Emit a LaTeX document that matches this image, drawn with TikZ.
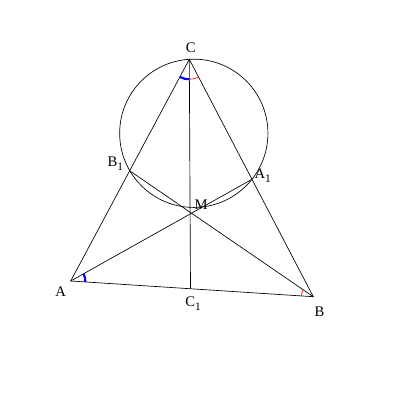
\documentclass[tikz,border=0pt]{standalone}
\usepackage{fontspec}
\setmainfont{Liberation Serif}
\usetikzlibrary{angles}
\newcommand{\mysub}[1]{\raisebox{-0.6ex}{\fontsize{8.5}{9}\selectfont #1}}
\begin{document}
\begin{tikzpicture}[x=0.75pt,y=-0.75pt,line width=0.5pt,
  lbl/.style={font=\fontsize{11}{13}\selectfont,inner sep=0pt,anchor=base west},
  bluemark/.style={draw=blue,line width=1.6pt},
  redmark/.style={draw=red,line width=0.5pt}]
\useasboundingbox (0,0) rectangle (400,400);
\coordinate (A) at (70.7,281);
\coordinate (B) at (313.3,296.7);
\coordinate (C) at (189.3,59.3);
\coordinate (C1) at (190.5,288.5);
\coordinate (A1) at (252,179.3);
\coordinate (B1) at (130,171);
\coordinate (M) at (191,213);
\coordinate (O) at (193.8,133.3);
% circle
\draw (O) circle [radius=55.6pt];
% triangle
\draw (A) -- (B) -- (C) -- cycle;
% medians
\draw (C) -- (C1);
\draw (A) -- (A1);
\draw (B) -- (B1);
% angle marks
\pic [bluemark,angle radius=15pt] {angle=A--C--C1};
\pic [redmark,angle radius=15pt] {angle=C1--C--B};
\pic [bluemark,angle radius=11pt] {angle=B--A--A1};
\pic [redmark,angle radius=9pt] {angle=B1--B--A};
% labels
\node[lbl] (lC) at (185.5,52.7) {C};
\node[lbl] (lA) at (55,296) {A};
\node[lbl] (lB) at (314.3,316.7) {B};
\node[lbl] (lM) at (194.3,209.3) {M};
\node[lbl] (lC1) at (185,306.7) {C\mysub{1}};
\node[lbl] (lB1) at (107.3,166.7) {B\mysub{1}};
\node[lbl] (lA1) at (254.3,178.3) {A\mysub{1}};
\end{tikzpicture}
\end{document}
